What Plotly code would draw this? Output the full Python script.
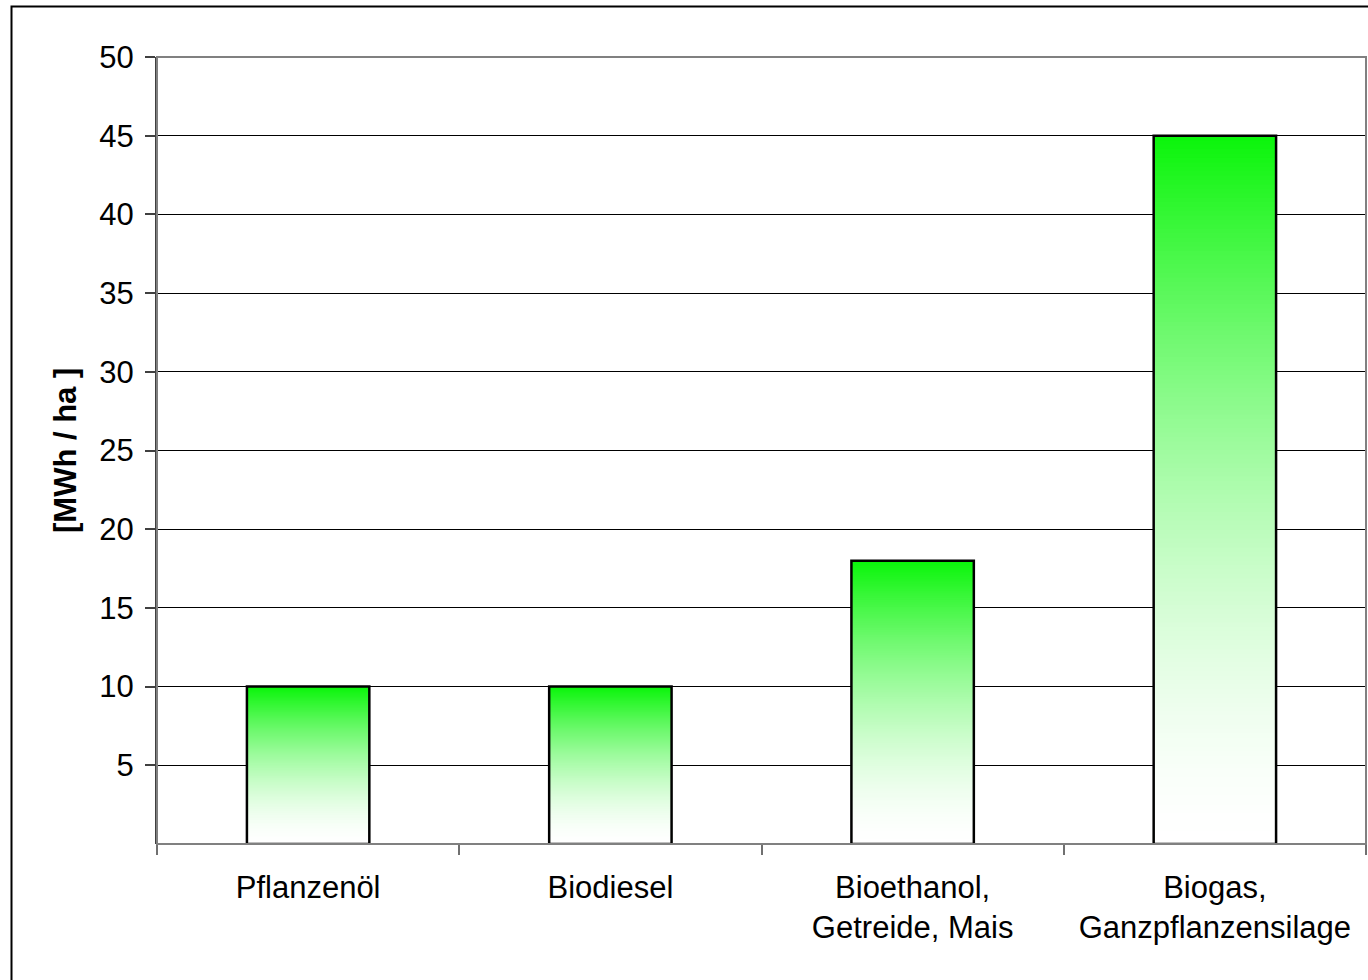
import plotly.graph_objects as go

# Energy yield per hectare for different bioenergy paths
categories = ["Pflanzenöl", "Biodiesel", "Bioethanol,<br>Getreide, Mais", "Biogas,<br>Ganzpflanzensilage"]
values = [10, 10, 18, 45]
y_ticks = [5, 10, 15, 20, 25, 30, 35, 40, 45, 50]

W, H = 1368, 980
ML, MR, MT, MB = 157, 2, 57, 136
FONT = "Liberation Sans, Arial, sans-serif"
FS = 31

TOP = (10, 245, 10)   # colour at the top of each bar
BOT = (255, 255, 255)  # colour at the base
N = 160                 # slices per bar for the vertical gradient
BAR_W = 0.405


def blend(t):
    g = t ** 1.6
    return "rgb({},{},{})".format(*[round(b + (a - b) * g) for a, b in zip(TOP, BOT)])


# each slice runs from its own base to the bar top, so later slices cover
# earlier ones and no seams appear between them
seg_x, seg_base, seg_h, seg_c = [], [], [], []
for cat, v in zip(categories, values):
    for k in range(N):
        b = v * k / N
        seg_x.append(cat)
        seg_base.append(b)
        seg_h.append(v - b)
        seg_c.append(blend((k + 0.5) / N))

fig = go.Figure()
fig.add_trace(go.Bar(
    x=seg_x, y=seg_h, base=seg_base, width=BAR_W,
    marker=dict(color=seg_c, line=dict(width=0)),
    hoverinfo="skip", showlegend=False,
))
fig.add_trace(go.Bar(
    x=categories, y=values, width=BAR_W,
    marker=dict(color="rgba(0,0,0,0)", line=dict(color="black", width=2.5)),
    showlegend=False,
))

fig.update_layout(
    width=W, height=H,
    margin=dict(l=ML, r=MR, t=MT, b=MB, autoexpand=False),
    barmode="overlay",
    plot_bgcolor="white", paper_bgcolor="white",
    font=dict(family=FONT, size=FS, color="black"),
    xaxis=dict(
        type="category", categoryorder="array", categoryarray=categories,
        range=[-0.5, len(categories) - 0.5],
        tickson="boundaries", ticks="outside", ticklen=10, tickwidth=1.5,
        tickcolor="#707070", showgrid=False, showline=False,
        tickfont=dict(family=FONT, size=FS), zeroline=False,
        ticklabelstandoff=22,
    ),
    yaxis=dict(
        range=[0, 50], tickvals=y_ticks, ticktext=[str(t) for t in y_ticks],
        ticks="outside", ticklen=10, tickwidth=1.5, tickcolor="#404040",
        showgrid=True, gridcolor="black", gridwidth=1,
        showline=True, linecolor="#404040", linewidth=2,
        zeroline=False, tickfont=dict(family=FONT, size=FS),
        ticklabelstandoff=5,
    ),
    shapes=[
        # plot area frame
        dict(type="rect", xref="x domain", yref="y domain", x0=0, x1=1, y0=0, y1=1,
             line=dict(color="#808080", width=2), fillcolor="rgba(0,0,0,0)", layer="above"),
        # chart frame
        dict(type="rect", xref="paper", yref="paper",
             x0=(11.5 - ML) / (W - ML - MR), x1=1.2,
             y0=-0.3, y1=1 + (MT - 6.5) / (H - MT - MB),
             line=dict(color="black", width=2), fillcolor="rgba(0,0,0,0)", layer="above"),
    ],
    annotations=[
        dict(text="<b>[MWh / ha ]</b>", textangle=-90, showarrow=False,
             xref="paper", yref="paper",
             x=(65 - ML) / (W - ML - MR), y=1 - (451 - MT) / (H - MT - MB),
             xanchor="center", yanchor="middle",
             font=dict(family=FONT, size=FS, color="black")),
    ],
)

fig.write_html("out.html")
